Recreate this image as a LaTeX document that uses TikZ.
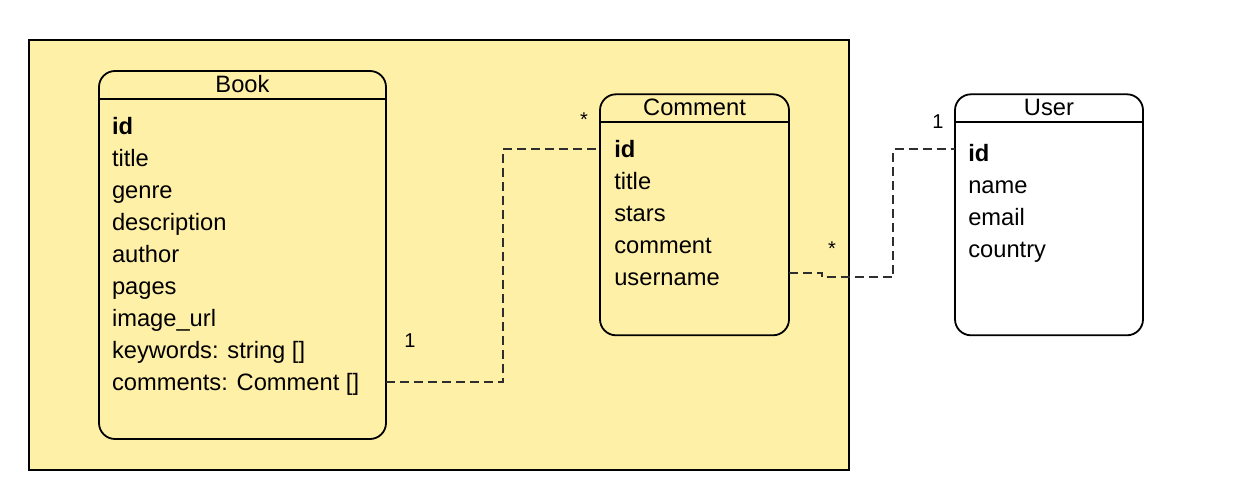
\documentclass[tikz,border=0pt]{standalone}
\usepackage{fontspec}
\setmainfont{Liberation Sans}
\usepackage{xcolor}
\usetikzlibrary{positioning}
\definecolor{packfill}{HTML}{FFF0A8}
\definecolor{linkgray}{HTML}{2E2E2E}

\begin{document}
\begin{tikzpicture}[x=1pt, y=-1pt,
    frame/.style={draw, fill=packfill, line width=1.8pt, anchor=north west, inner sep=0pt, outer sep=0pt},
    entity/.style={draw, line width=1.8pt, rounded corners=16pt, anchor=north west, inner sep=0pt, outer sep=0pt},
    heading/.style={inner sep=0pt, outer sep=0pt, text height=21.7pt, text depth=6.3pt, font=\fontsize{23.7}{28}\selectfont},
    field/.style={inner sep=0pt, outer sep=0pt, text height=24.5pt, text depth=7.5pt, anchor=north west, font=\fontsize{23.7}{28}\selectfont},
    link/.style={draw=linkgray, line width=1.7pt, dash pattern=on 9pt off 5pt},
    mult/.style={inner sep=0pt, font=\fontsize{20}{22}\selectfont}]
        \useasboundingbox (0,0) rectangle (1242,500);

        % NODES
        % -----------------

        % Package frame
        \node[frame, minimum width=820pt, minimum height=430pt] (package) at (29,40) {};

        % Book
        \node[entity, minimum width=287pt, minimum height=368pt] (book) at (99,71) {};
        \node[heading, below=0pt of book.north] (book_title) {Book};
        \draw[line width=1.8pt] (book.west |- book_title.south) -- (book.east |- book_title.south);
        \node[field, below right=39pt and 13pt of book.north west] (book_id) {\textbf{id}};
        \node[field, below=0pt of book_id.south west, anchor=north west] (book_name) {title};
        \node[field, below=0pt of book_name.south west, anchor=north west] (book_genre) {genre};
        \node[field, below=0pt of book_genre.south west, anchor=north west] (book_desc) {description};
        \node[field, below=0pt of book_desc.south west, anchor=north west] (book_author) {author};
        \node[field, below=0pt of book_author.south west, anchor=north west] (book_pages) {pages};
        \node[field, below=0pt of book_pages.south west, anchor=north west] (book_image) {image\_url};
        \node[field, below=0pt of book_image.south west, anchor=north west] (book_keywords) {keywords: string []};
        \node[field, below=0pt of book_keywords.south west, anchor=north west] (book_comments) {comments: Comment []};

        % Comment
        \node[entity, minimum width=189pt, minimum height=241pt] (comment) at (600,94.3) {};
        \node[heading, below=0pt of comment.north] (comment_title) {Comment};
        \draw[line width=1.8pt] (comment.west |- comment_title.south) -- (comment.east |- comment_title.south);
        \node[field, below right=38.9pt and 14.3pt of comment.north west] (comment_id) {\textbf{id}};
        \node[field, below=0pt of comment_id.south west, anchor=north west] (comment_name) {title};
        \node[field, below=0pt of comment_name.south west, anchor=north west] (comment_stars) {stars};
        \node[field, below=0pt of comment_stars.south west, anchor=north west] (comment_text) {comment};
        \node[field, below=0pt of comment_text.south west, anchor=north west] (comment_username) {username};

        % User
        \node[entity, minimum width=188pt, minimum height=241pt] (user) at (955,94.3) {};
        \node[heading, below=0pt of user.north] (user_title) {User};
        \draw[line width=1.8pt] (user.west |- user_title.south) -- (user.east |- user_title.south);
        \node[field, below right=42.9pt and 13.3pt of user.north west] (user_id) {\textbf{id}};
        \node[field, below=0pt of user_id.south west, anchor=north west] (user_name) {name};
        \node[field, below=0pt of user_name.south west, anchor=north west] (user_email) {email};
        \node[field, below=0pt of user_email.south west, anchor=north west] (user_country) {country};

        % EDGES
        % -----------------
        \coordinate (bc_start) at (book.east |- book_comments);
        \coordinate (bc_end) at (comment.west |- comment_id);
        \draw[link] (bc_start) -- ++(117,0) |- (bc_end);
        \node[mult] at ([xshift=24pt, yshift=41pt]bc_start) {1};
        \node[mult] at ([xshift=-16pt, yshift=30pt]bc_end) {*};

        \coordinate (cu_row) at (comment.east |- comment_username);
        \coordinate (cu_start) at ([yshift=4.5pt]cu_row);
        \coordinate (cu_id) at (user.west |- user_id);
        \coordinate (cu_end) at ([yshift=4pt]cu_id);
        \draw[link] (cu_start) -- ++(33,0) |- ++(71,4.5) |- (cu_end);
        \node[mult] at ([xshift=43pt, yshift=24pt]cu_start) {*};
        \node[mult] at ([xshift=-17pt, yshift=28pt]cu_end) {1};

\end{tikzpicture}
\end{document}
